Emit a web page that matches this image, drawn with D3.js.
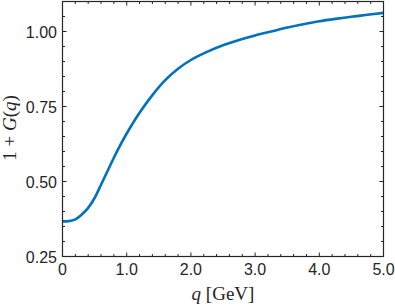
<!DOCTYPE html>
<html>
<head>
<meta charset="utf-8">
<script src="https://cdn.jsdelivr.net/npm/d3@7"></script>
<style>
  body { margin: 0; background: #fff; }
  svg { display: block; }
</style>
</head>
<body>
<svg id="chart" width="395" height="306"></svg>
<script>
// values
var qVals = [0, 0.1, 0.2, 0.3, 0.4, 0.5, 0.6, 0.7, 0.8, 0.9, 1.0, 1.2, 1.4, 1.6, 1.8, 2.0, 2.25, 2.5, 2.75, 3.0, 3.25, 3.5, 3.75, 4.0, 4.25, 4.5, 4.75, 5.0];
var gVals = [0.367, 0.368, 0.374, 0.39, 0.412, 0.445, 0.489, 0.534, 0.579, 0.621, 0.66, 0.729, 0.788, 0.838, 0.876, 0.905, 0.932, 0.954, 0.972, 0.987, 1.000, 1.013, 1.024, 1.034, 1.042, 1.049, 1.056, 1.062];
var xTicks = [0, 1, 2, 3, 4, 5];
var xTickLabels = ["0", "1.0", "2.0", "3.0", "4.0", "5.0"];
var yTicks = [0.25, 0.5, 0.75, 1.0];
var yTickLabels = ["0.25", "0.50", "0.75", "1.00"];

var svg = d3.select("#chart");
var pLeft = 62.5, pRight = 383.5, pTop = 1.5, pBottom = 256.5;
var axisColor = "#262626";

var x = d3.scaleLinear().domain([0, 5]).range([pLeft, pRight]);
var y = d3.scaleLinear().domain([0.25, 1.10]).range([pBottom, pTop]);

var data = qVals.map(function(q, i){ return {q: q, g: gVals[i]}; });

var line = d3.line()
    .x(function(d){ return x(d.q); })
    .y(function(d){ return y(d.g); })
    .curve(d3.curveCatmullRom.alpha(0.5));

svg.append("path")
    .datum(data)
    .attr("d", line)
    .attr("fill", "none")
    .attr("stroke", "#0072BD")
    .attr("stroke-width", 2.6);

// ticks on all four sides, inward
function minorTicks(scale, step){
    var out = [];
    var d = scale.domain();
    for (var v = d[0]; v <= d[1] + 1e-9; v += step) out.push(+v.toFixed(4));
    return out;
}
var xMinor = minorTicks(x, 0.2);
var yMinor = minorTicks(y, 0.05);
function isMajor(list, d){ return list.some(function(t){ return Math.abs(t - d) < 1e-6; }); }

var g = svg.append("g");
g.selectAll("line.xb").data(xMinor).enter().append("line")
    .attr("x1", function(d){ return x(d); }).attr("x2", function(d){ return x(d); })
    .attr("y1", pBottom).attr("y2", function(d){ return pBottom - (isMajor(xTicks, d) ? 4 : 2.5); })
    .attr("stroke", axisColor);
g.selectAll("line.xt").data(xMinor).enter().append("line")
    .attr("x1", function(d){ return x(d); }).attr("x2", function(d){ return x(d); })
    .attr("y1", pTop).attr("y2", function(d){ return pTop + (isMajor(xTicks, d) ? 4 : 2.5); })
    .attr("stroke", axisColor);
g.selectAll("line.yl").data(yMinor).enter().append("line")
    .attr("y1", function(d){ return y(d); }).attr("y2", function(d){ return y(d); })
    .attr("x1", pLeft).attr("x2", function(d){ return pLeft + (isMajor(yTicks, d) ? 4 : 2.5); })
    .attr("stroke", axisColor);
g.selectAll("line.yr").data(yMinor).enter().append("line")
    .attr("y1", function(d){ return y(d); }).attr("y2", function(d){ return y(d); })
    .attr("x1", pRight).attr("x2", function(d){ return pRight - (isMajor(yTicks, d) ? 4 : 2.5); })
    .attr("stroke", axisColor);

g.append("rect")
    .attr("x", pLeft).attr("y", pTop)
    .attr("width", pRight - pLeft).attr("height", pBottom - pTop)
    .attr("fill", "none")
    .attr("stroke", axisColor)
    .attr("stroke-width", 1.2);

g.selectAll("text.xl").data(xTicks).enter().append("text")
    .attr("x", function(d){ return x(d); })
    .attr("y", 274.5)
    .attr("text-anchor", "middle")
    .attr("font-family", "Liberation Sans, Arial, sans-serif")
    .attr("font-size", "16px")
    .attr("fill", axisColor)
    .text(function(d, i){ return xTickLabels[i]; });

g.selectAll("text.yl").data(yTicks).enter().append("text")
    .attr("x", 57)
    .attr("y", function(d){ return y(d) + 6; })
    .attr("text-anchor", "end")
    .attr("font-family", "Liberation Sans, Arial, sans-serif")
    .attr("font-size", "16px")
    .attr("fill", axisColor)
    .text(function(d, i){ return yTickLabels[i]; });

// axis titles (LaTeX style)
var xt = svg.append("text")
    .attr("x", (pLeft + pRight) / 2)
    .attr("y", 300)
    .attr("text-anchor", "middle")
    .attr("font-family", "Liberation Serif, Times New Roman, serif")
    .attr("font-size", "19px")
    .attr("fill", axisColor);
xt.append("tspan").attr("font-style", "italic").text("q");
xt.append("tspan").text(" [GeV]");

var yt = svg.append("text")
    .attr("transform", "translate(15.5,128) rotate(-90)")
    .attr("text-anchor", "middle")
    .attr("font-family", "Liberation Serif, Times New Roman, serif")
    .attr("font-size", "19px")
    .attr("fill", axisColor);
yt.append("tspan").text("1 + ");
yt.append("tspan").attr("font-style", "italic").text("G");
yt.append("tspan").text("(");
yt.append("tspan").attr("font-style", "italic").text("q");
yt.append("tspan").text(")");
</script>
</body>
</html>
